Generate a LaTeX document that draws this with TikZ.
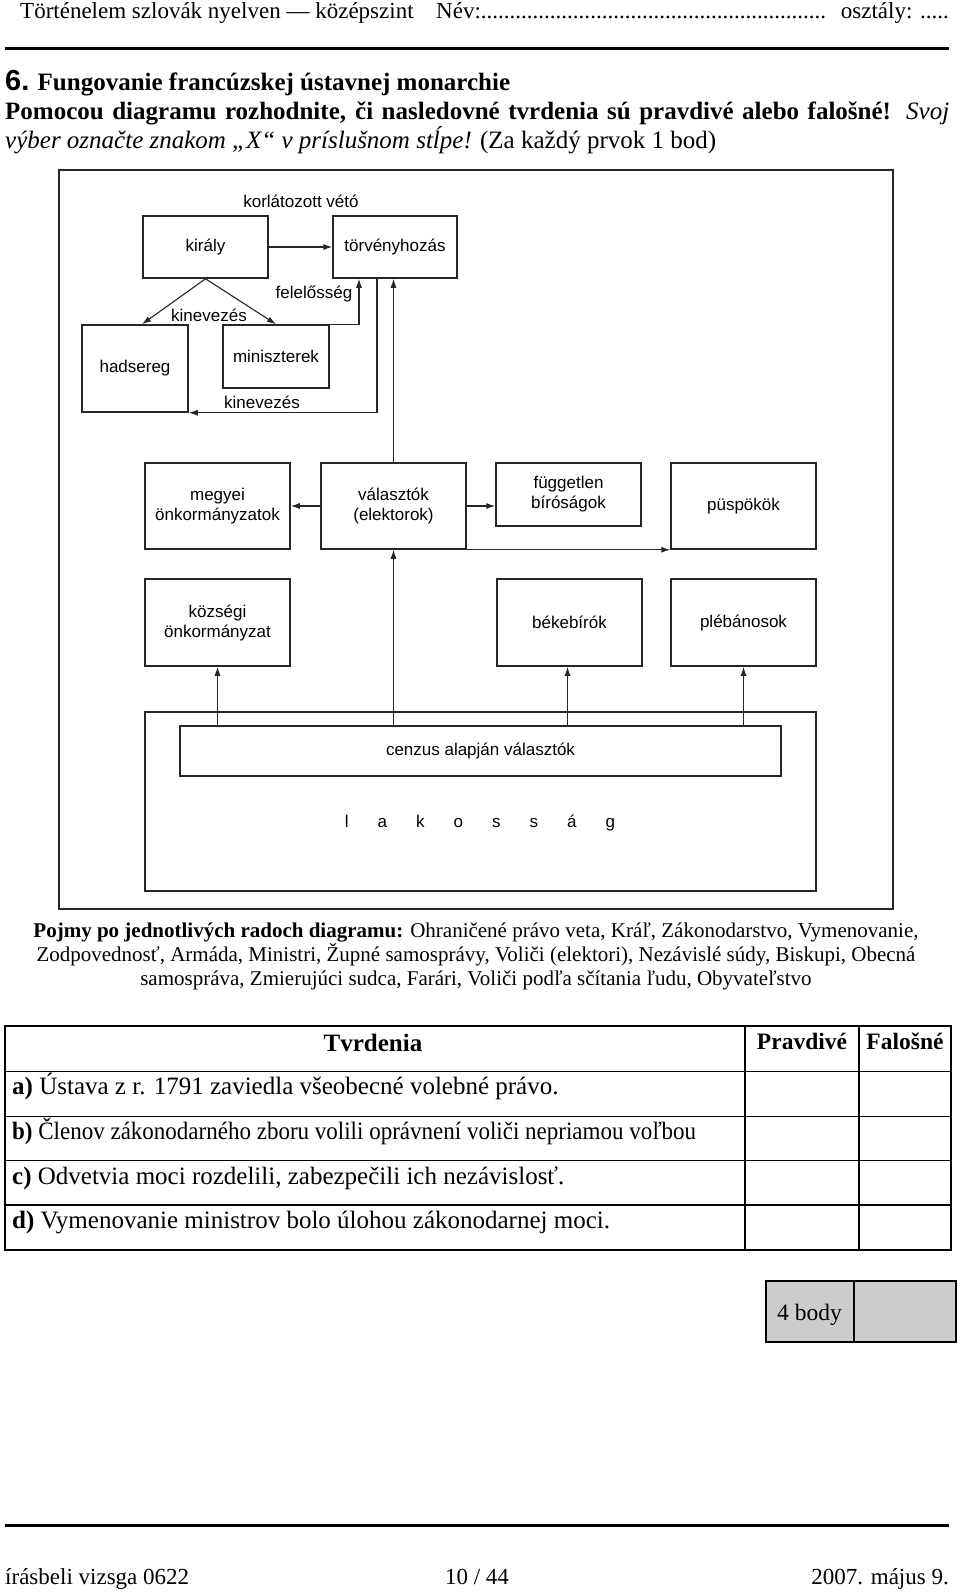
\documentclass[tikz,border=0pt]{standalone}
\usepackage{fontspec}
\setmainfont{Liberation Serif}
\newfontfamily\arial{Liberation Sans}
\usetikzlibrary{arrows.meta}
\begin{document}
\begin{tikzpicture}[x=1pt,y=-1pt,
  box/.style={draw=black!85, line width=1.5pt, inner sep=0pt, font=\arial\fontsize{17}{20}\selectfont, align=center},
  lbl/.style={inner sep=0pt, font=\arial\fontsize{17}{20}\selectfont},
  conn/.style={draw=black!85, line width=1.1pt},
  arr/.style={conn, -{Latex[length=9pt,width=6pt]}},
  frame/.style={draw=black!85, line width=1.8pt},
  tx/.style={inner sep=0pt, font=\fontsize{25}{29}\selectfont},
  th/.style={inner sep=0pt, font=\fontsize{23.5}{29}\selectfont},
  sm/.style={inner sep=0pt, font=\fontsize{21}{24.4}\selectfont},
  hf/.style={inner sep=0pt, font=\fontsize{23}{26}\selectfont},
  rule/.style={line width=3pt},
  grid/.style={line width=1.4pt}
]
\useasboundingbox[fill=white] (0,0) rectangle (960,1592);

% header
\node[hf, anchor=base west] (hd1) at (20,19) {Történelem szlovák nyelven — középszint};
\node[hf, anchor=base west] (hd2) at (436,19) {\hbox to 390pt{Név:\xleaders\hbox{.}\hfill}};
\node[hf, anchor=base east] (hd3) at (949,19) {osztály: .....};
\draw[rule] (5,49) -- (949,49);

% title and instructions
\node[tx, anchor=base west] (t1) at (5,91) {{\arial\bfseries\fontsize{29}{29}\selectfont 6.} \textbf{Fungovanie francúzskej ústavnej monarchie}};
\node[tx, anchor=base west] (t2) at (5,120) {\hbox to 944pt{\textbf{Pomocou diagramu rozhodnite, či nasledovné tvrdenia sú pravdivé alebo falošné!} \textit{Svoj}}};
\node[tx, anchor=base west] (t3) at (5,149) {\textit{výber označte znakom „X“ v príslušnom stĺpe!} (Za každý prvok 1 bod)};

% diagram frame
\draw[frame] (59,170) rectangle (893,909);

% boxes
\node[box, minimum width=125pt, minimum height=62pt] (kiraly) at (205.5,247) {király};
\node[box, minimum width=124pt, minimum height=62pt] (torveny) at (395,247) {törvényhozás};
\node[lbl] (veto) at (301,201) {korlátozott vétó};
\node[box, minimum width=106pt, minimum height=87pt] (hadsereg) at (135,368.5) {hadsereg};
\node[box, minimum width=106pt, minimum height=63pt] (miniszt) at (276,356.5) {miniszterek};
\node[lbl] (kin1) at (209,315) {kinevezés};
\node[lbl] (felel) at (314,294) {felelősség};
\node[lbl] (kin2) at (262,402) {kinevezés};

\node[box, minimum width=145pt, minimum height=86pt] (megyei) at (217.5,506) {megyei\\önkormányzatok};
\node[box, minimum width=145pt, minimum height=86pt] (valaszt) at (393.5,506) {választók\\(elektorok)};
\node[box, minimum width=145pt, minimum height=63pt] (fugg) at (568.5,494.5) {független\\bíróságok};
\node[box, minimum width=145pt, minimum height=86pt] (puspok) at (743.5,506) {püspökök};
\node[box, minimum width=145pt, minimum height=87pt] (kozseg) at (217.5,622.5) {községi\\önkormányzat};
\node[box, minimum width=145pt, minimum height=87pt] (bekeb) at (569.5,622.5) {békebírók};
\node[box, minimum width=145pt, minimum height=87pt] (pleb) at (743.5,622.5) {plébánosok};

\draw[frame, line width=1.5pt] (145,712) rectangle (816,891);
\node[box, minimum width=601pt, minimum height=50pt] (cenzus) at (480.5,751) {cenzus alapján választók};
\node[lbl] (lak) at (480,823) {l\hspace{29pt}a\hspace{29pt}k\hspace{29pt}o\hspace{29pt}s\hspace{29pt}s\hspace{29pt}á\hspace{29pt}g};

% connectors
\draw[arr] (kiraly) -- (torveny);
\draw[arr] (kiraly.south) -- ([xshift=7pt]hadsereg.north);
\draw[arr] (kiraly.south) -- (miniszt.north);
\draw[arr] (miniszt.north east) -| ([xshift=-36pt]torveny.south);
\draw[arr] ([xshift=-18pt]torveny.south) |- (hadsereg.south east);
\draw[arr] (valaszt.north) -- (valaszt.north |- torveny.south);
\draw[arr] (valaszt.west) -- (megyei.east);
\draw[arr] (valaszt.east) -- (valaszt.east -| fugg.west);
\draw[arr] (valaszt.south east) -- (puspok.south west);
\draw[arr] (cenzus.north -| kozseg.south) -- (kozseg.south);
\draw[arr] (cenzus.north -| valaszt.south) -- (valaszt.south);
\draw[arr] ([xshift=-2pt]cenzus.north -| bekeb.south) -- ([xshift=-2pt]bekeb.south);
\draw[arr] (cenzus.north -| pleb.south) -- (pleb.south);

% terms
\node[sm, anchor=base] (p1) at (476,937) {\textbf{Pojmy po jednotlivých radoch diagramu:} Ohraničené právo veta, Kráľ, Zákonodarstvo, Vymenovanie,};
\node[sm, anchor=base] (p2) at (476,961) {Zodpovednosť, Armáda, Ministri, Župné samosprávy, Voliči (elektori), Nezávislé súdy, Biskupi, Obecná};
\node[sm, anchor=base] (p3) at (476,985) {samospráva, Zmierujúci sudca, Farári, Voliči podľa sčítania ľudu, Obyvateľstvo};

% table
\draw[grid] (5,1026) rectangle (951,1250);
\draw[grid] (5,1071.5) -- (951,1071.5) (5,1116.5) -- (951,1116.5) (5,1160.5) -- (951,1160.5) (5,1205) -- (951,1205);
\draw[grid] (745,1026) -- (745,1250) (859,1026) -- (859,1250);
\node[tx, anchor=base] (th1) at (373,1051) {\textbf{Tvrdenia}};
\node[th, anchor=base] (th2) at (802,1049) {\textbf{Pravdivé}};
\node[th, anchor=base] (th3) at (905,1049) {\textbf{Falošné}};
\node[tx, anchor=base west] (ra) at (12,1094) {\textbf{a)} Ústava z r. 1791 zaviedla všeobecné volebné právo.};
\node[tx, anchor=base west] (rb) at (12,1139) {\scalebox{0.92}[1]{\textbf{b)} Členov zákonodarného zboru volili oprávnení voliči nepriamou voľbou}};
\node[tx, anchor=base west] (rc) at (12,1184) {\textbf{c)} Odvetvia moci rozdelili, zabezpečili ich nezávislosť.};
\node[tx, anchor=base west] (rd) at (12,1228) {\textbf{d)} Vymenovanie ministrov bolo úlohou zákonodarnej moci.};

% score box
\draw[grid, fill=black!20] (766,1281) rectangle (956,1342);
\draw[grid] (854,1281) -- (854,1342);
\node[th, anchor=base west] (score) at (777,1320) {4 body};

% footer
\draw[rule] (5,1525) -- (949,1525);
\node[hf, anchor=base west] (f1) at (5,1584) {írásbeli vizsga 0622};
\node[hf, anchor=base] (f2) at (477,1584) {10 / 44};
\node[hf, anchor=base east] (f3) at (949,1584) {2007. május 9.};
\end{tikzpicture}
\end{document}
